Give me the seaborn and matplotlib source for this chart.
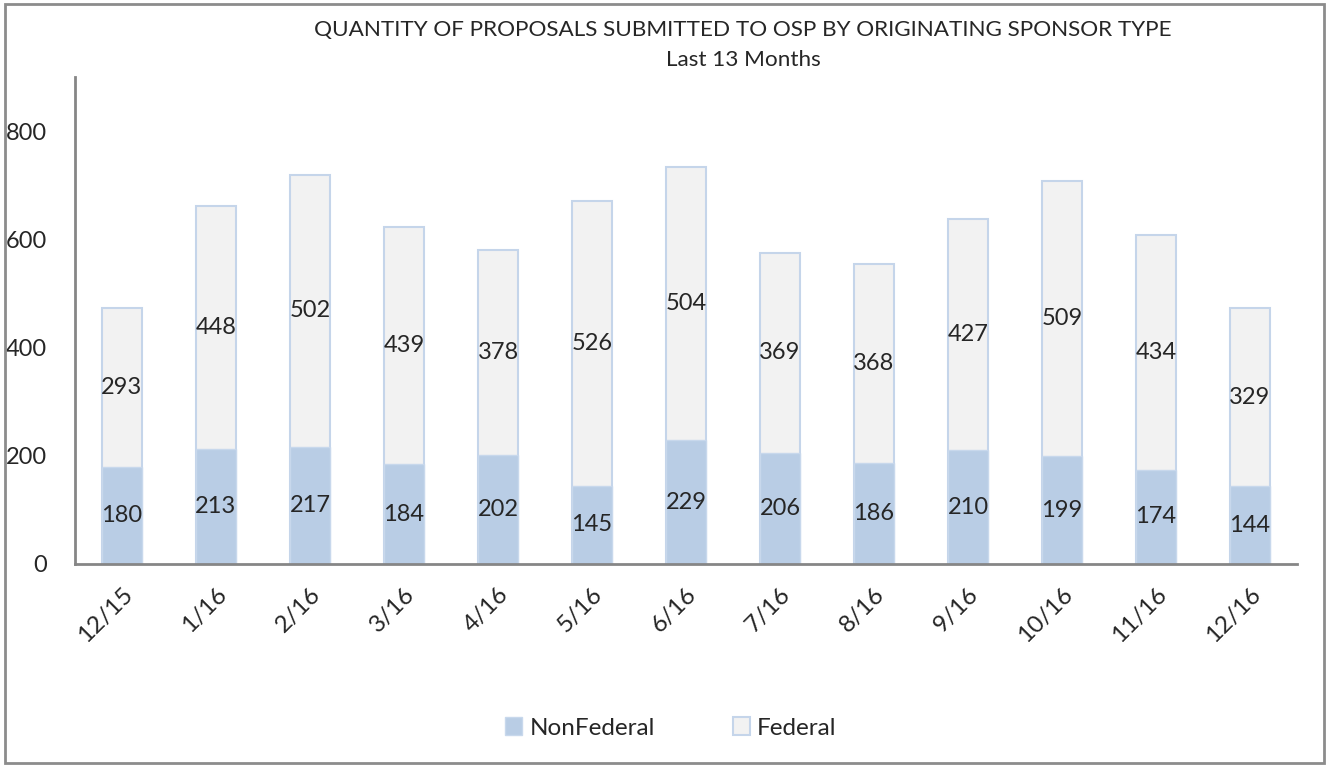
import numpy as np
import pandas as pd
import matplotlib
matplotlib.use('Agg')
import matplotlib.pyplot as plt
import seaborn as sns
from matplotlib.patches import Rectangle, Patch

# data
months = ['12/15', '1/16', '2/16', '3/16', '4/16', '5/16', '6/16',
          '7/16', '8/16', '9/16', '10/16', '11/16', '12/16']
nonfederal = [180, 213, 217, 184, 202, 145, 229, 206, 186, 210, 199, 174, 144]
federal = [293, 448, 502, 439, 378, 526, 504, 369, 368, 427, 509, 434, 329]
yticks = [0, 200, 400, 600, 800]

df = pd.DataFrame({'month': months, 'NonFederal': nonfederal, 'Federal': federal})
df['total'] = df['NonFederal'] + df['Federal']

sns.set_style('white')
plt.rcParams['font.family'] = ['Lato', 'DejaVu Sans']

fig = plt.figure(figsize=(13.27, 7.67), dpi=100)
ax = fig.add_axes([75/1327, 1 - 564/767, (1297-75)/1327, (564-77)/767])

edge = '#c5d5ea'
sns.barplot(data=df, x='month', y='total', color='#f2f2f2', edgecolor=edge,
            linewidth=1.5, width=0.42, saturation=1, ax=ax)
sns.barplot(data=df, x='month', y='NonFederal', color='#b9cde5', edgecolor='#c8d8ec',
            linewidth=1, width=0.42, saturation=1, ax=ax)

# value labels centred in each segment
for i, (nf, f) in enumerate(zip(nonfederal, federal)):
    ax.text(i, nf / 2, str(nf), ha='center', va='center', fontsize=17)
    ax.text(i, nf + f / 2, str(f), ha='center', va='center', fontsize=17)

ax.set_ylim(0, 900)
ax.set_xlim(-0.5, len(months) - 0.5)
ax.set_yticks(yticks)
ax.set_yticklabels([str(t) for t in yticks], fontsize=17)
ax.set_xticks(range(len(months)))
ax.set_xticklabels(months, rotation=45, ha='right', rotation_mode='anchor', fontsize=17.5)
ax.tick_params(axis='both', length=0)
ax.tick_params(axis='y', pad=20)
ax.tick_params(axis='x', pad=14)
ax.set_xlabel('')
ax.set_ylabel('')
for s in ['top', 'right']:
    ax.spines[s].set_visible(False)
for s in ['left', 'bottom']:
    ax.spines[s].set_color('#868686')
    ax.spines[s].set_linewidth(2)

fig.text(743/1327, 1 - 30/767, 'QUANTITY OF PROPOSALS SUBMITTED TO OSP BY ORIGINATING SPONSOR TYPE',
         ha='center', va='center', fontsize=16.2)
fig.text(743/1327, 1 - 60/767, 'Last 13 Months', ha='center', va='center', fontsize=16.2)

handles = [Patch(facecolor='#b9cde5', edgecolor='#c8d8ec', label='NonFederal'),
           Patch(facecolor='#f2f2f2', edgecolor=edge, linewidth=1.5, label='Federal')]
fig.legend(handles=handles, loc='center', bbox_to_anchor=(671/1327, 1 - 728/767), ncol=2,
           frameon=False, fontsize=17.5, handlelength=0.7, handleheight=0.7,
           handletextpad=0.3, columnspacing=3.2)

fig.add_artist(Rectangle((5/1327, 4/767), 1319/1327, 759/767, transform=fig.transFigure,
                         fill=False, edgecolor='#8c8c8c', linewidth=2))

fig.savefig('out.png', dpi=100)
